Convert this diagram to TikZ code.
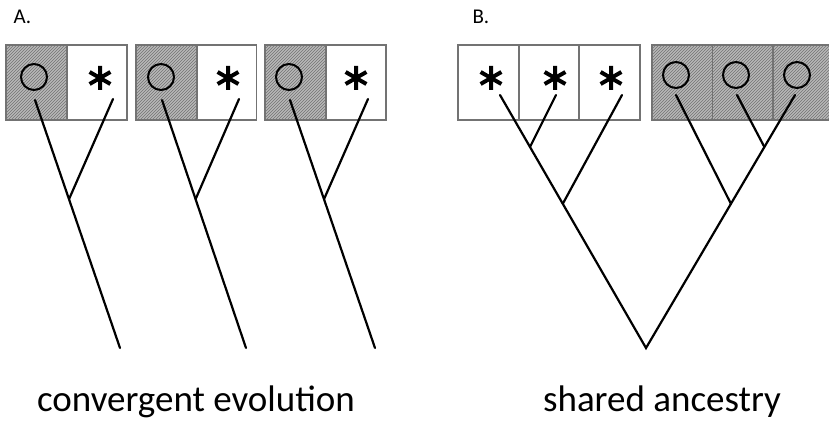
\documentclass[tikz,border=0pt]{standalone}
\usepackage{fontspec}
\setmainfont{Carlito}
\usetikzlibrary{patterns,calc}
\begin{document}
\begin{tikzpicture}[x=1pt,y=-1pt,
  cell/.style={draw=black!55,line width=1.3pt,minimum width=#1,minimum height=75pt,inner sep=0pt,outer sep=0pt},
  cell/.default=61pt,
  shade/.style={preaction={fill=black!28},pattern=north east lines,pattern color=black!55},
  ring/.style={draw=black,line width=2pt,circle,minimum size=26pt,inner sep=0pt},
  star/.style={inner sep=0pt,minimum size=26pt,
    path picture={\draw[line width=4pt]
      (path picture bounding box.center) ++(90:12pt) -- ++(270:24pt)
      (path picture bounding box.center) ++(30:12pt) -- ++(210:24pt)
      (path picture bounding box.center) ++(150:12pt) -- ++(330:24pt);}},
  branch/.style={line width=2.2pt,line cap=round},
  panel/.style={font=\fontsize{21}{21}\selectfont},
  caption/.style={font=\fontsize{37}{42}\selectfont}]
\useasboundingbox (0,0) rectangle (829,422);
\fill[white] (0,0) rectangle (829,422);
% labels
\node[panel,anchor=west] (la) at (10,17) {A.};
\node[panel,anchor=west] (lb) at (469,17) {B.};
% ---------- panel A cells
\foreach \i/\xl/\xr in {1/36.5/97, 2/166.5/226.5, 3/295.5/356}{
  \node[cell,shade] (ac\i) at (\xl,82.5) {};
  \node[cell=60pt] (as\i) at (\xr,82.5) {};
}
% circles and stars
\foreach \i/\cx/\sx in {1/34/100, 2/161/228, 3/289/356}{
  \node[ring] (ar\i) at (\cx,77) {};
  \node[star] (ak\i) at (\sx,78) {};
}
% trees A
\coordinate (ta1) at (35,100);  \coordinate (ra1) at (120,348); \coordinate (sa1) at (113,99);
\coordinate (ta2) at (162,100); \coordinate (ra2) at (246,348); \coordinate (sa2) at (239,99);
\coordinate (ta3) at (290,100); \coordinate (ra3) at (375,348); \coordinate (sa3) at (368,99);
\foreach \i in {1,2,3}{
  \coordinate (ja\i) at ($(ta\i)!0.4!(ra\i)$);
  \draw[branch] (ta\i) -- (ra\i);
  \draw[branch] (sa\i) -- (ja\i);
}
% ---------- panel B cells
\node[cell] (bs1) at (488.5,82.5) {};
\node[cell] (bs2) at (549,82.5) {};
\node[cell] (bs3) at (609.5,82.5) {};
\node[cell,shade] (bc1) at (682.5,82.5) {};
\node[cell,shade] (bc2) at (743,82.5) {};
\node[cell,shade] (bc3) at (803.5,82.5) {};
\node[star] (bk1) at (491,78) {};
\node[star] (bk2) at (555,78) {};
\node[star] (bk3) at (611,78) {};
\node[ring] (br1) at (676,75) {};
\node[ring] (br2) at (736,75) {};
\node[ring] (br3) at (797,75) {};
% trees B
\coordinate (root) at (646,348);
\coordinate (tb1) at (500,95); \coordinate (tb2) at (556,95); \coordinate (tb3) at (622,95);
\coordinate (tc1) at (676,95); \coordinate (tc2) at (737,95); \coordinate (tc3) at (795,95);
\coordinate (jb2) at ($(tb1)!0.2055!(root)$);
\coordinate (jb3) at ($(tb1)!0.43!(root)$);
\coordinate (jc2) at ($(tc3)!0.2055!(root)$);
\coordinate (jc1) at ($(tc3)!0.43!(root)$);
\draw[branch] (tb1) -- (root) -- (tc3);
\draw[branch] (tb2) -- (jb2);
\draw[branch] (tb3) -- (jb3);
\draw[branch] (tc2) -- (jc2);
\draw[branch] (tc1) -- (jc1);
% captions
\node[caption] (capa) at (196,402) {convergent evolution};
\node[caption] (capb) at (662,402) {shared ancestry};
\end{tikzpicture}
\end{document}
